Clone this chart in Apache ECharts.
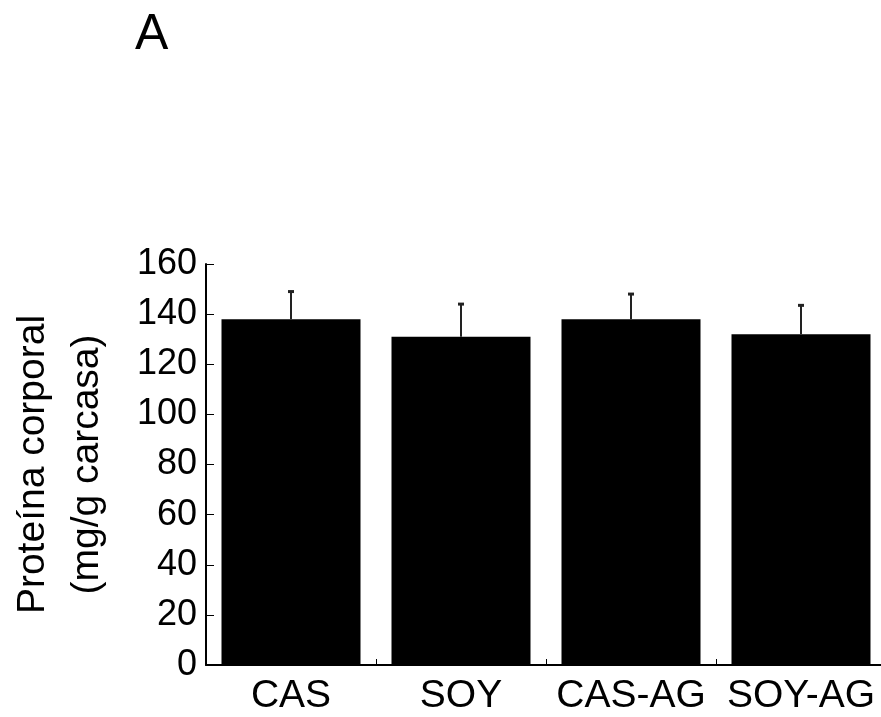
<!DOCTYPE html>
<html>
<head>
<meta charset="utf-8">
<script src="https://cdn.jsdelivr.net/npm/echarts@6/dist/echarts.min.js"></script>
<style>
  html, body { margin: 0; padding: 0; background: #fff; }
  #chart-01 { width: 881px; height: 717px; }
</style>
</head>
<body>
<div id="chart-01"></div>
<script>
var categories = ['CAS', 'SOY', 'CAS-AG', 'SOY-AG'];
var means = [138, 131, 138, 132];
var errors = [11, 13, 10, 11.5];
var yTicks = [0, 20, 40, 60, 80, 100, 120, 140, 160];

var errData = means.map(function (m, i) { return [i, m, m + errors[i]]; });

var myChart01 = echarts.init(document.getElementById('chart-01'));
var font = 'Liberation Sans, Arial, sans-serif';

option01 = {
    animation: false,
    title: {
        text: 'A',
        left: 130,
        top: 5,
        textStyle: { fontFamily: font, fontSize: 50, fontWeight: 'normal', color: '#000' }
    },
    grid: { left: 206, right: -5, top: 264, bottom: 52, outerBoundsMode: 'none', containLabel: false },
    xAxis: {
        type: 'category',
        data: categories,
        axisLine: { lineStyle: { color: '#000', width: 2 } },
        axisTick: { show: true, inside: true, length: 6, lineStyle: { color: '#000', width: 1 } },
        axisLabel: { fontFamily: font, fontSize: 39, color: '#000', margin: 12, interval: 0 }
    },
    yAxis: {
        type: 'value',
        min: yTicks[0],
        max: yTicks[yTicks.length - 1],
        interval: 20,
        name: 'Proteína corporal\n(mg/g carcasa)',
        nameLocation: 'middle',
        nameGap: 92,
        nameRotate: 90,
        nameTextStyle: { fontFamily: font, fontSize: 39, color: '#000', lineHeight: 54 },
        axisLine: { show: true, lineStyle: { color: '#000', width: 2 } },
        axisTick: { show: true, inside: true, length: 8, lineStyle: { color: '#000', width: 1 } },
        axisLabel: { fontFamily: font, fontSize: 36, color: '#000', margin: 9 },
        splitLine: { show: false }
    },
    series: [
        {
            type: 'bar',
            data: means,
            barWidth: 139,
            itemStyle: { color: '#000' }
        },
        {
            type: 'custom',
            data: errData,
            z: 5,
            renderItem: function (params, api) {
                var x = api.value(0);
                var p1 = api.coord([x, api.value(1)]);
                var p2 = api.coord([x, api.value(2)]);
                return {
                    type: 'group',
                    children: [
                        { type: 'line', shape: { x1: p1[0], y1: p1[1], x2: p2[0], y2: p2[1] }, style: { stroke: '#222', lineWidth: 2 } },
                        { type: 'line', shape: { x1: p2[0] - 3, y1: p2[1], x2: p2[0] + 3, y2: p2[1] }, style: { stroke: '#222', lineWidth: 3 } }
                    ]
                };
            }
        }
    ]
};
myChart01.setOption(option01);
</script>
</body>
</html>
